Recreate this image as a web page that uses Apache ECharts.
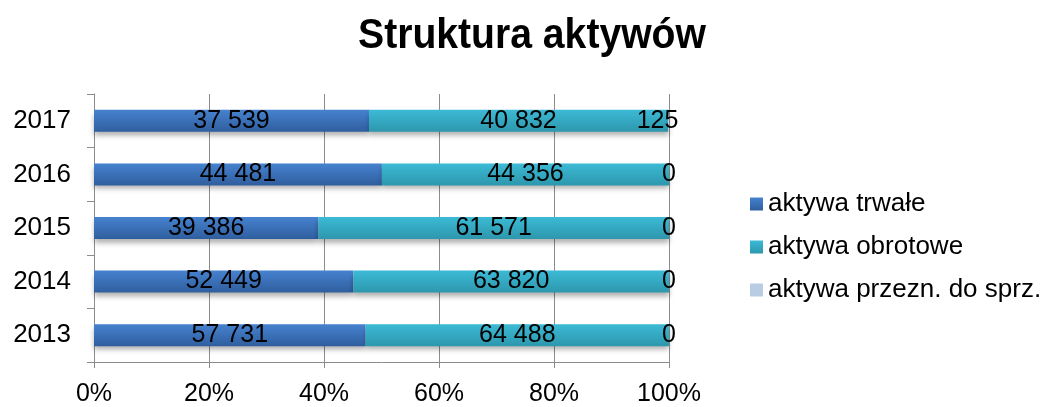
<!DOCTYPE html>
<html>
<head>
<meta charset="utf-8">
<script src="https://cdn.jsdelivr.net/npm/echarts@6/dist/echarts.min.js"></script>
<style>
  html, body { margin: 0; padding: 0; background: #fff; }
  #wykres { width: 1046px; height: 407px; }
</style>
</head>
<body>
<div id="wykres"></div>
<script>
var lata = ['2013', '2014', '2015', '2016', '2017'];
var aktywaTrwale = [57731, 52449, 39386, 44481, 37539];
var aktywaObrotowe = [64488, 63820, 61571, 44356, 40832];
var aktywaDoSprz = [0, 0, 0, 0, 125];
var nazwySerii = ['aktywa trwałe', 'aktywa obrotowe', 'aktywa przezn. do sprz.'];
var etykietyOsi = ['0%', '20%', '40%', '60%', '80%', '100%'];
var tytul = 'Struktura aktywów';

function sumy(){
  var s = [];
  for (var i = 0; i < lata.length; i++) {
    s.push(aktywaTrwale[i] + aktywaObrotowe[i] + aktywaDoSprz[i]);
  }
  return s;
}

function formatuj(v){
  return String(v).replace(/\B(?=(\d{3})+(?!\d))/g, ' ');
}

function gradient(gora, dol){
  return new echarts.graphic.LinearGradient(0, 0, 0, 1, [
    {offset: 0, color: gora},
    {offset: 1, color: dol}
  ]);
}

function seria(nazwa, wartosci, kolor){
  var s = sumy();
  var dane = wartosci.map(function(v, i){
    var d = {value: v / s[i] * 100, raw: v};
    // mala niezerowa etykieta na koncu paska - przesunieta w lewo jak w Excelu
    if (v > 0 && v / s[i] < 0.01) {
      d.label = {offset: [-11, 0]};
    }
    return d;
  });
  return {
    name: nazwa,
    type: 'bar',
    stack: 'razem',
    barWidth: 22,
    data: dane,
    itemStyle: {
      color: kolor,
      shadowColor: 'rgba(0,0,0,0.3)',
      shadowBlur: 5,
      shadowOffsetY: 4
    },
    label: {
      show: true,
      position: 'inside',
      color: '#000',
      fontFamily: 'Liberation Sans, Arial',
      fontSize: 25,
      formatter: function(p){ return formatuj(p.data.raw); }
    }
  };
}

var myChart = echarts.init(document.getElementById('wykres'));
myChart.setOption({
  animation: false,
  graphic: [{
    type: 'text',
    x: 532,
    y: 36,
    scaleX: 0.91,
    style: {
      text: tytul,
      align: 'center',
      verticalAlign: 'middle',
      fill: '#000',
      font: 'bold 43px "Liberation Sans", Arial'
    }
  }],
  color: ['#3b72c0', '#35afcc', '#b8cce4'],
  legend: {
    orient: 'vertical',
    left: 745,
    top: 186,
    itemWidth: 13,
    itemHeight: 13,
    itemGap: 17,
    icon: 'rect',
    textStyle: {fontFamily: 'Liberation Sans, Arial', fontSize: 26, color: '#000'},
    data: nazwySerii
  },
  grid: {left: 94, right: 377, top: 94, bottom: 44},
  xAxis: {
    type: 'value',
    min: 0,
    max: 100,
    interval: 20,
    axisLine: {show: true, lineStyle: {color: '#8c8c8c'}},
    axisTick: {show: true, length: 6, lineStyle: {color: '#8c8c8c'}},
    splitLine: {show: true, lineStyle: {color: '#8c8c8c', width: 1}},
    axisLabel: {
      fontFamily: 'Liberation Sans, Arial',
      fontSize: 25,
      color: '#000',
      margin: 20,
      formatter: function(v){ return etykietyOsi[v / 20]; }
    }
  },
  yAxis: {
    type: 'category',
    data: lata,
    axisLine: {show: true, lineStyle: {color: '#8c8c8c'}},
    axisTick: {show: true, length: 7, lineStyle: {color: '#8c8c8c'}},
    axisLabel: {fontFamily: 'Liberation Sans, Arial', fontSize: 26, color: '#000', margin: 23}
  },
  series: [
    seria(nazwySerii[0], aktywaTrwale, gradient('#4682cf', '#2f5e9e')),
    seria(nazwySerii[1], aktywaObrotowe, gradient('#3cbad6', '#2d97ad')),
    seria(nazwySerii[2], aktywaDoSprz, '#b8cce4')
  ]
});
</script>
</body>
</html>
